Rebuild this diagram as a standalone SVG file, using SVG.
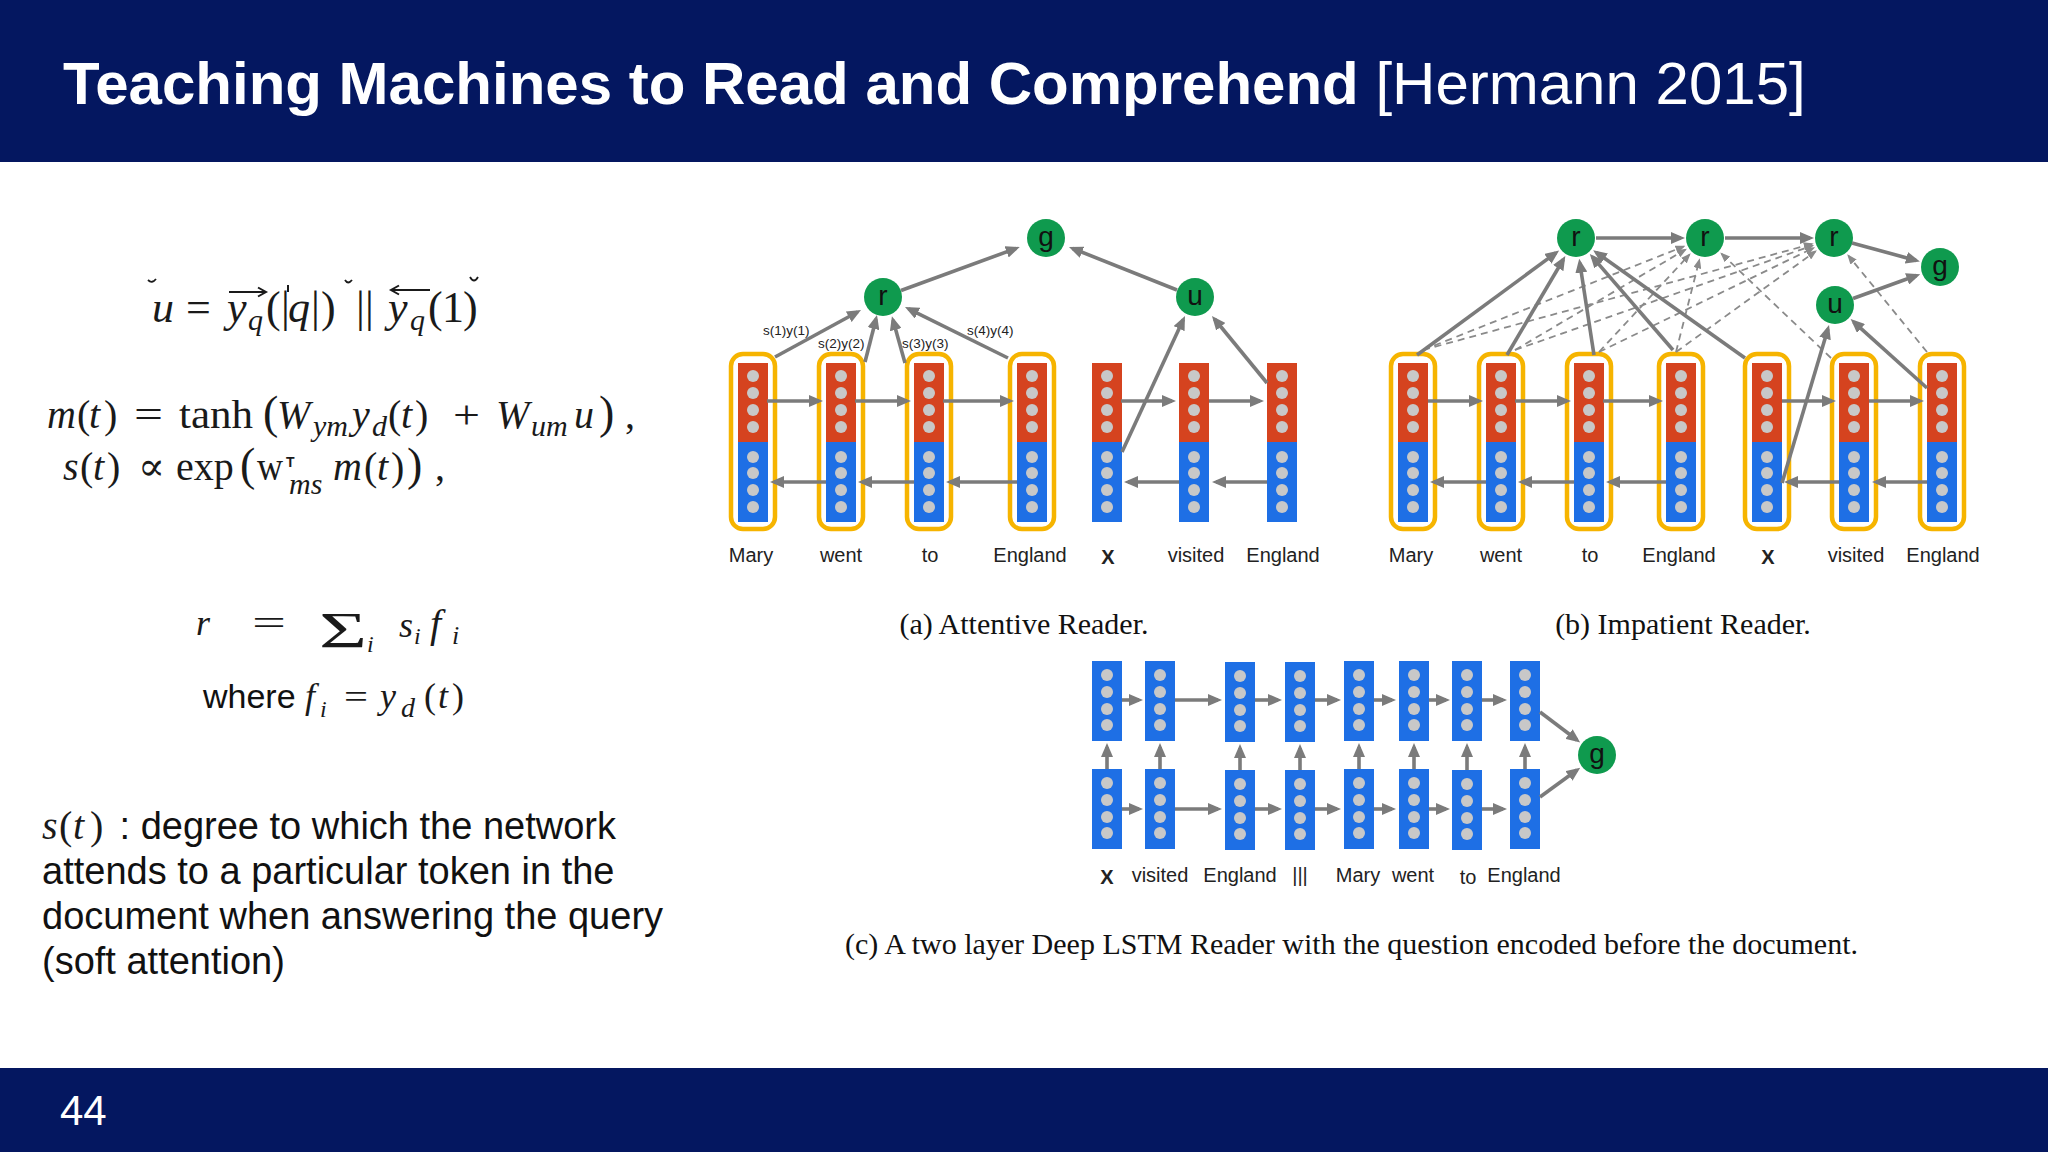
<svg xmlns="http://www.w3.org/2000/svg" xmlns:xlink="http://www.w3.org/1999/xlink" width="2048" height="1152" viewBox="0 0 2048 1152">
<style>
.sans{font-family:"Liberation Sans",Arial,sans-serif}
.ser{font-family:"Liberation Serif","DejaVu Serif","Times New Roman",serif;fill:#1a1a1a}
.it{font-style:italic}
.lbl{font-family:"Liberation Sans",Arial,sans-serif;font-size:20px;fill:#222;text-anchor:middle}
.nlet{font-family:"Liberation Sans",Arial,sans-serif;font-size:28px;fill:#111;text-anchor:middle}
.node{fill:#0f9a4e}
.ybox{fill:none;stroke:#f6b400;stroke-width:4.5}
.dot{fill:#c8c8c8}
.c{stroke:#7b7b7b;stroke-width:3.6;fill:none;marker-end:url(#ah)}
.d{stroke:#8a8a8a;stroke-width:1.8;fill:none;stroke-dasharray:7 5;marker-end:url(#ahd)}
.sl{font-family:"Liberation Sans",Arial,sans-serif;font-size:13.5px;fill:#222}
.cap{font-family:"Liberation Serif","Times New Roman",serif;font-size:30px;fill:#111}
</style>
<defs>
<marker id="ah" viewBox="0 0 14 12" refX="10" refY="6" markerWidth="14" markerHeight="12" markerUnits="userSpaceOnUse" orient="auto"><path d="M0,0 L14,6 L0,12 z" fill="#7b7b7b"/></marker>
<marker id="ahd" viewBox="0 0 10 8" refX="8" refY="4" markerWidth="10" markerHeight="8" markerUnits="userSpaceOnUse" orient="auto"><path d="M0,0 L10,4 L0,8 z" fill="#8a8a8a"/></marker>
<g id="bar2">
<rect width="30" height="80" fill="#d5431f"/>
<rect y="79" width="30" height="80" fill="#1e6fe5"/>
<circle class="dot" cx="15" cy="13" r="6"/><circle class="dot" cx="15" cy="30" r="6"/><circle class="dot" cx="15" cy="47" r="6"/><circle class="dot" cx="15" cy="64" r="6"/>
<circle class="dot" cx="15" cy="94" r="6"/><circle class="dot" cx="15" cy="110" r="6"/><circle class="dot" cx="15" cy="127" r="6"/><circle class="dot" cx="15" cy="144" r="6"/>
</g>
<g id="bar1">
<rect width="30" height="80" fill="#1e6fe5"/>
<circle class="dot" cx="15" cy="14" r="6"/><circle class="dot" cx="15" cy="31" r="6"/><circle class="dot" cx="15" cy="48" r="6"/><circle class="dot" cx="15" cy="64" r="6"/>
</g>
</defs>

<rect width="2048" height="1152" fill="#ffffff"/>

<!-- header / footer -->
<g id="header">
<rect x="0" y="0" width="2048" height="162" fill="#041760"/>
<text x="63" y="104" class="sans" font-size="60" fill="#ffffff"><tspan font-weight="bold">Teaching Machines to Read and Comprehend </tspan><tspan>[Hermann 2015]</tspan></text>
</g>
<g id="footer">
<rect x="0" y="1068" width="2048" height="84" fill="#041760"/>
<text x="60" y="1125" class="sans" font-size="42" fill="#ffffff">44</text>
</g>

<!-- left column equations -->
<g id="eq-u">
<text class="ser" font-size="44" y="322"><tspan x="152" class="it">u</tspan><tspan x="186">=</tspan><tspan x="227" class="it">y</tspan><tspan x="248" y="330" font-size="30" class="it">q</tspan><tspan x="266" y="322">(</tspan><tspan x="281">|</tspan><tspan x="288" class="it">q</tspan><tspan x="311">|</tspan><tspan x="321">)</tspan><tspan x="356">|</tspan><tspan x="365">|</tspan><tspan x="388" class="it">y</tspan><tspan x="410" y="330" font-size="30" class="it">q</tspan><tspan x="428" y="322">(</tspan><tspan x="442">1</tspan><tspan x="463">)</tspan></text>
<path d="M229,292 H265 M258,287.5 L266,292 L258,296.5" stroke="#1a1a1a" stroke-width="2" fill="none"/>
<path d="M430,290 H392 M399,285.5 L391,290 L399,294.5" stroke="#1a1a1a" stroke-width="2" fill="none"/>
<path d="M148,280 q4,4 8,-1" stroke="#1a1a1a" stroke-width="1.8" fill="none"/>
<path d="M288,285 v7" stroke="#1a1a1a" stroke-width="2" fill="none"/>
<path d="M345,280 q3,5 7,0" stroke="#1a1a1a" stroke-width="1.8" fill="none"/>
<path d="M470,277 q4,7 8,0" stroke="#1a1a1a" stroke-width="1.8" fill="none"/>
</g>
<g id="eq-m">
<text class="ser" font-size="40" y="428"><tspan x="47" class="it">m</tspan><tspan x="77">(</tspan><tspan x="89" class="it">t</tspan><tspan x="104">)</tspan><tspan x="134" textLength="29" lengthAdjust="spacingAndGlyphs">=</tspan><tspan x="179" textLength="74" lengthAdjust="spacingAndGlyphs">tanh</tspan><tspan x="263" font-size="46">(</tspan><tspan x="277" class="it">W</tspan><tspan x="313" y="436" font-size="30" class="it">ym</tspan><tspan x="352" y="428" class="it">y</tspan><tspan x="372" y="436" font-size="30" class="it">d</tspan><tspan x="388" y="428">(</tspan><tspan x="401" class="it">t</tspan><tspan x="415">)</tspan><tspan x="453" textLength="27" lengthAdjust="spacingAndGlyphs">+</tspan><tspan x="496" class="it">W</tspan><tspan x="531" y="436" font-size="30" class="it">um</tspan><tspan x="574" y="428" class="it">u</tspan><tspan x="599" font-size="46">)</tspan><tspan x="625">,</tspan></text>
</g>
<g id="eq-s">
<text class="ser" font-size="40" y="480"><tspan x="63" class="it">s</tspan><tspan x="80">(</tspan><tspan x="93" class="it">t</tspan><tspan x="107">)</tspan><tspan x="138">∝</tspan><tspan x="176">exp</tspan><tspan x="240" font-size="46">(</tspan><tspan x="257" textLength="26" lengthAdjust="spacingAndGlyphs">w</tspan><tspan x="289" y="494" font-size="30" class="it">ms</tspan><tspan x="333" y="480" class="it">m</tspan><tspan x="364">(</tspan><tspan x="377" class="it">t</tspan><tspan x="391">)</tspan><tspan x="407" font-size="46">)</tspan><tspan x="435">,</tspan></text>
<text x="286" y="467" class="sans" font-size="14" font-weight="bold" fill="#1a1a1a">T</text>
</g>
<g id="eq-r">
<text class="ser" font-size="36" y="635" fill="#2a2a2a"><tspan x="196" class="it">r</tspan><tspan x="252" textLength="34" lengthAdjust="spacingAndGlyphs">=</tspan><tspan x="319" y="647" font-size="50" textLength="48" lengthAdjust="spacingAndGlyphs">Σ</tspan><tspan x="367" y="652" font-size="24" class="it">i</tspan><tspan x="399" y="637" class="it">s</tspan><tspan x="414" y="644" font-size="24" class="it">i</tspan><tspan x="430" y="637" font-size="40" class="it">f</tspan><tspan x="452" y="644" font-size="26" class="it">i</tspan></text>
</g>
<g id="eq-where">
<text y="708"><tspan x="203" class="sans" font-size="34" fill="#111">where</tspan><tspan x="305" class="ser it" font-size="36">f</tspan><tspan x="320" y="717" class="ser it" font-size="24">i</tspan><tspan x="344" y="708" class="ser" font-size="34" textLength="24" lengthAdjust="spacingAndGlyphs">=</tspan><tspan x="380" class="ser it" font-size="36">y</tspan><tspan x="401" y="717" class="ser it" font-size="28">d</tspan><tspan x="424" y="708" class="ser" font-size="36">(</tspan><tspan x="438" class="ser it" font-size="36">t</tspan><tspan x="452" class="ser" font-size="36">)</tspan></text>
</g>
<g id="paragraph">
<text class="sans" font-size="38" fill="#111"><tspan x="42" y="839" class="ser it" font-size="40">s</tspan><tspan x="59" y="839" class="ser" font-size="40">(</tspan><tspan x="73" y="839" class="ser it" font-size="40">t</tspan><tspan x="90" y="839" class="ser" font-size="40">)</tspan><tspan x="109" y="839"> : degree to which the network</tspan><tspan x="42" y="884">attends to a particular token in the</tspan><tspan x="42" y="929">document when answering the query</tspan><tspan x="42" y="974">(soft attention)</tspan></text>
</g>

<!-- (a) Attentive Reader -->
<g id="a-bars">
<g id="a-mary"><rect class="ybox" x="731" y="354" width="44" height="175" rx="12"/><use xlink:href="#bar2" x="738" y="363"/><text class="lbl" x="751" y="562">Mary</text></g>
<g id="a-went"><rect class="ybox" x="819" y="354" width="44" height="175" rx="12"/><use xlink:href="#bar2" x="826" y="363"/><text class="lbl" x="841" y="562">went</text></g>
<g id="a-to"><rect class="ybox" x="907" y="354" width="44" height="175" rx="12"/><use xlink:href="#bar2" x="914" y="363"/><text class="lbl" x="930" y="562">to</text></g>
<g id="a-england"><rect class="ybox" x="1010" y="354" width="44" height="175" rx="12"/><use xlink:href="#bar2" x="1017" y="363"/><text class="lbl" x="1030" y="562">England</text></g>
<g id="a-x"><use xlink:href="#bar2" x="1092" y="363"/><text class="lbl" x="1108" y="564" font-weight="bold" font-size="22">X</text></g>
<g id="a-visited"><use xlink:href="#bar2" x="1179" y="363"/><text class="lbl" x="1196" y="562">visited</text></g>
<g id="a-england2"><use xlink:href="#bar2" x="1267" y="363"/><text class="lbl" x="1283" y="562">England</text></g>
</g>
<g id="a-r"><circle class="node" cx="883" cy="297" r="19"/><text class="nlet" x="883" y="305">r</text></g>
<g id="a-g"><circle class="node" cx="1046" cy="238" r="19"/><text class="nlet" x="1046" y="246">g</text></g>
<g id="a-u"><circle class="node" cx="1195" cy="297" r="19"/><text class="nlet" x="1195" y="305">u</text></g>
<g id="a-labels">
<text class="sl" x="763" y="335">s(1)y(1)</text>
<text class="sl" x="818" y="348">s(2)y(2)</text>
<text class="sl" x="902" y="348">s(3)y(3)</text>
<text class="sl" x="967" y="335">s(4)y(4)</text>
</g>
<text class="cap" x="1024" y="634" text-anchor="middle">(a) Attentive Reader.</text>

<!-- (b) Impatient Reader -->
<g id="b-bars">
<g id="b-mary"><rect class="ybox" x="1391" y="354" width="44" height="175" rx="12"/><use xlink:href="#bar2" x="1398" y="363"/><text class="lbl" x="1411" y="562">Mary</text></g>
<g id="b-went"><rect class="ybox" x="1479" y="354" width="44" height="175" rx="12"/><use xlink:href="#bar2" x="1486" y="363"/><text class="lbl" x="1501" y="562">went</text></g>
<g id="b-to"><rect class="ybox" x="1567" y="354" width="44" height="175" rx="12"/><use xlink:href="#bar2" x="1574" y="363"/><text class="lbl" x="1590" y="562">to</text></g>
<g id="b-england"><rect class="ybox" x="1659" y="354" width="44" height="175" rx="12"/><use xlink:href="#bar2" x="1666" y="363"/><text class="lbl" x="1679" y="562">England</text></g>
<g id="b-x"><rect class="ybox" x="1745" y="354" width="44" height="175" rx="12"/><use xlink:href="#bar2" x="1752" y="363"/><text class="lbl" x="1768" y="564" font-weight="bold" font-size="22">X</text></g>
<g id="b-visited"><rect class="ybox" x="1832" y="354" width="44" height="175" rx="12"/><use xlink:href="#bar2" x="1839" y="363"/><text class="lbl" x="1856" y="562">visited</text></g>
<g id="b-england2"><rect class="ybox" x="1920" y="354" width="44" height="175" rx="12"/><use xlink:href="#bar2" x="1927" y="363"/><text class="lbl" x="1943" y="562">England</text></g>
</g>
<g id="b-r1"><circle class="node" cx="1576" cy="238" r="19"/><text class="nlet" x="1576" y="246">r</text></g>
<g id="b-r2"><circle class="node" cx="1705" cy="238" r="19"/><text class="nlet" x="1705" y="246">r</text></g>
<g id="b-r3"><circle class="node" cx="1834" cy="238" r="19"/><text class="nlet" x="1834" y="246">r</text></g>
<g id="b-u"><circle class="node" cx="1835" cy="305" r="19"/><text class="nlet" x="1835" y="313">u</text></g>
<g id="b-g"><circle class="node" cx="1940" cy="267" r="19"/><text class="nlet" x="1940" y="275">g</text></g>
<text class="cap" x="1683" y="634" text-anchor="middle">(b) Impatient Reader.</text>

<!-- (c) Deep LSTM Reader -->
<g id="c-cols">
<g id="c-x"><use xlink:href="#bar1" x="1092" y="661"/><use xlink:href="#bar1" x="1092" y="769"/><text class="lbl" x="1107" y="884" font-weight="bold" font-size="22">X</text></g>
<g id="c-visited"><use xlink:href="#bar1" x="1145" y="661"/><use xlink:href="#bar1" x="1145" y="769"/><text class="lbl" x="1160" y="882">visited</text></g>
<g id="c-england"><use xlink:href="#bar1" x="1225" y="662"/><use xlink:href="#bar1" x="1225" y="770"/><text class="lbl" x="1240" y="882">England</text></g>
<g id="c-sep"><use xlink:href="#bar1" x="1285" y="662"/><use xlink:href="#bar1" x="1285" y="770"/><text class="lbl" x="1300" y="882">|||</text></g>
<g id="c-mary"><use xlink:href="#bar1" x="1344" y="661"/><use xlink:href="#bar1" x="1344" y="769"/><text class="lbl" x="1358" y="882">Mary</text></g>
<g id="c-went"><use xlink:href="#bar1" x="1399" y="661"/><use xlink:href="#bar1" x="1399" y="769"/><text class="lbl" x="1413" y="882">went</text></g>
<g id="c-to"><use xlink:href="#bar1" x="1452" y="661"/><use xlink:href="#bar1" x="1452" y="770"/><text class="lbl" x="1468" y="884">to</text></g>
<g id="c-england2"><use xlink:href="#bar1" x="1510" y="661"/><use xlink:href="#bar1" x="1510" y="769"/><text class="lbl" x="1524" y="882">England</text></g>
</g>
<g id="c-g"><circle class="node" cx="1597" cy="755" r="19"/><text class="nlet" x="1597" y="763">g</text></g>
<text class="cap" x="845" y="954">(c) A two layer Deep LSTM Reader with the question encoded before the document.</text>

<!-- connectors -->
<g id="connectors">
<!-- (a) recurrences -->
<line class="c" x1="767" y1="401" x2="819" y2="401"/>
<line class="c" x1="855" y1="401" x2="907" y2="401"/>
<line class="c" x1="943" y1="401" x2="1010" y2="401"/>
<line class="c" x1="1121" y1="401" x2="1172" y2="401"/>
<line class="c" x1="1209" y1="401" x2="1260" y2="401"/>
<line class="c" x1="826" y1="482" x2="774" y2="482"/>
<line class="c" x1="914" y1="482" x2="862" y2="482"/>
<line class="c" x1="1017" y1="482" x2="950" y2="482"/>
<line class="c" x1="1179" y1="482" x2="1128" y2="482"/>
<line class="c" x1="1267" y1="482" x2="1216" y2="482"/>
<!-- (a) attention -->
<line class="c" x1="775" y1="357" x2="857.5" y2="312"/>
<line class="c" x1="865" y1="362" x2="876" y2="319"/>
<line class="c" x1="905" y1="363" x2="893" y2="320"/>
<line class="c" x1="1008" y1="358" x2="908.6" y2="308.8"/>
<line class="c" x1="901" y1="290.5" x2="1016" y2="248.4"/>
<line class="c" x1="1177" y1="290" x2="1072.7" y2="248.5"/>
<line class="c" x1="1122" y1="452" x2="1183.3" y2="319.6"/>
<line class="c" x1="1267" y1="383" x2="1214.5" y2="319"/>
<!-- (b) recurrences -->
<line class="c" x1="1428" y1="401" x2="1479" y2="401"/>
<line class="c" x1="1515" y1="401" x2="1567" y2="401"/>
<line class="c" x1="1603" y1="401" x2="1659" y2="401"/>
<line class="c" x1="1782" y1="401" x2="1832" y2="401"/>
<line class="c" x1="1869" y1="401" x2="1920" y2="401"/>
<line class="c" x1="1486" y1="482" x2="1434" y2="482"/>
<line class="c" x1="1574" y1="482" x2="1522" y2="482"/>
<line class="c" x1="1666" y1="482" x2="1610" y2="482"/>
<line class="c" x1="1839" y1="482" x2="1788" y2="482"/>
<line class="c" x1="1927" y1="482" x2="1876" y2="482"/>
<!-- (b) dashed attention -->
<line class="d" x1="1423" y1="350" x2="1683.6" y2="246.5"/>
<line class="d" x1="1515" y1="350" x2="1685.2" y2="249.7"/>
<line class="d" x1="1599" y1="352" x2="1689.3" y2="254.8"/>
<line class="d" x1="1676" y1="352" x2="1699.3" y2="260.3"/>
<line class="d" x1="1831" y1="358" x2="1721.7" y2="253.9"/>
<line class="d" x1="1423" y1="350" x2="1811.8" y2="244"/>
<line class="d" x1="1515" y1="350" x2="1812.3" y2="245.6"/>
<line class="d" x1="1599" y1="352" x2="1813.3" y2="248"/>
<line class="d" x1="1676" y1="352" x2="1815.3" y2="251.5"/>
<line class="d" x1="1927" y1="352" x2="1848.5" y2="255.8"/>
<!-- (b) solid -->
<line class="c" x1="1417" y1="355" x2="1555.9" y2="252.9"/>
<line class="c" x1="1507" y1="355" x2="1563.3" y2="259.5"/>
<line class="c" x1="1594" y1="355" x2="1579.8" y2="262.7"/>
<line class="c" x1="1673" y1="350" x2="1592.4" y2="256.9"/>
<line class="c" x1="1745" y1="358" x2="1596.4" y2="252.5"/>
<line class="c" x1="1596" y1="238" x2="1681" y2="238"/>
<line class="c" x1="1725" y1="238" x2="1810" y2="238"/>
<line class="c" x1="1852" y1="243" x2="1916" y2="260.4"/>
<line class="c" x1="1853" y1="298.5" x2="1916.5" y2="275.5"/>
<line class="c" x1="1782" y1="483" x2="1827.9" y2="328.9"/>
<line class="c" x1="1927" y1="388" x2="1853.6" y2="321.8"/>
<!-- (c) -->
<line class="c" x1="1122" y1="700" x2="1139" y2="700"/>
<line class="c" x1="1175" y1="700" x2="1218" y2="700"/>
<line class="c" x1="1255" y1="700" x2="1278" y2="700"/>
<line class="c" x1="1315" y1="700" x2="1337" y2="700"/>
<line class="c" x1="1374" y1="700" x2="1392" y2="700"/>
<line class="c" x1="1429" y1="700" x2="1446" y2="700"/>
<line class="c" x1="1482" y1="700" x2="1503" y2="700"/>
<line class="c" x1="1122" y1="809" x2="1139" y2="809"/>
<line class="c" x1="1175" y1="809" x2="1218" y2="809"/>
<line class="c" x1="1255" y1="809" x2="1278" y2="809"/>
<line class="c" x1="1315" y1="809" x2="1337" y2="809"/>
<line class="c" x1="1374" y1="809" x2="1392" y2="809"/>
<line class="c" x1="1429" y1="809" x2="1446" y2="809"/>
<line class="c" x1="1482" y1="809" x2="1503" y2="809"/>
<line class="c" x1="1107" y1="769" x2="1107" y2="747"/>
<line class="c" x1="1160" y1="769" x2="1160" y2="747"/>
<line class="c" x1="1240" y1="770" x2="1240" y2="748"/>
<line class="c" x1="1300" y1="770" x2="1300" y2="748"/>
<line class="c" x1="1359" y1="769" x2="1359" y2="747"/>
<line class="c" x1="1414" y1="769" x2="1414" y2="747"/>
<line class="c" x1="1467" y1="770" x2="1467" y2="747"/>
<line class="c" x1="1525" y1="769" x2="1525" y2="747"/>
<line class="c" x1="1540" y1="712" x2="1577" y2="740"/>
<line class="c" x1="1540" y1="797" x2="1577" y2="770"/>
</g>
</svg>
